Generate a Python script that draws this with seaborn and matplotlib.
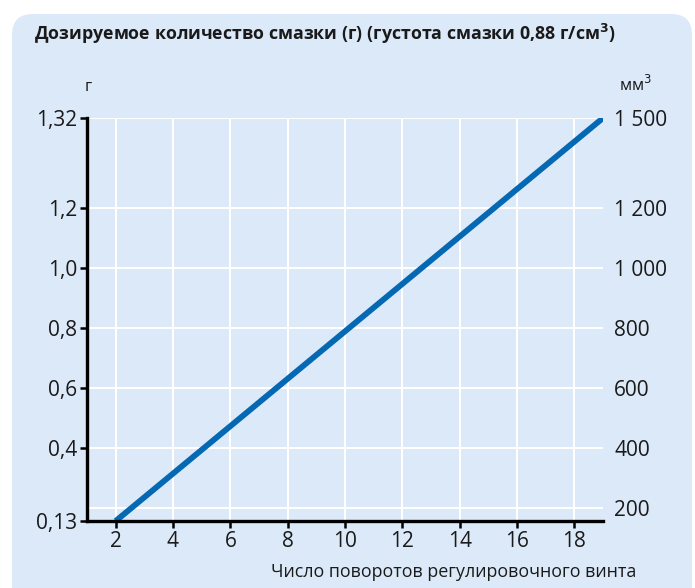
import matplotlib
matplotlib.use("Agg")
import matplotlib.pyplot as plt
import seaborn as sns
import pandas as pd
from matplotlib.patches import FancyBboxPatch

# data
turns = [2, 19]
volume_mm3 = [155, 1500]
x_ticks = [2, 4, 6, 8, 10, 12, 14, 16, 18]
right_ticks = [200, 400, 600, 800, 1000, 1200, 1500]
right_labels = ["200", "400", "600", "800", "1 000", "1 200", "1 500"]
left_ticks = [155, 400, 600, 800, 1000, 1200, 1500]
left_labels = ["0,13", "0,4", "0,6", "0,8", "1,0", "1,2", "1,32"]

sns.set_theme(style="white")
plt.rcParams['font.family'] = ['Open Sans', 'DejaVu Sans']

BG = "#dce9f8"
LINE = "#0568b3"
TXT = "#1a1a1a"

fig = plt.figure(figsize=(6.95, 5.88), dpi=100)
fig.patch.set_facecolor("white")
bg = FancyBboxPatch((12/695, -0.05), 680/695, 574/588 + 0.05,
                    boxstyle="round,pad=0,rounding_size=0.03",
                    transform=fig.transFigure, facecolor=BG, edgecolor="none",
                    zorder=-10, mutation_aspect=695/588)
fig.patches.append(bg)

ax = fig.add_axes([87/695, (588-521)/588, (603-87)/695, (521-118)/588])
ax.set_facecolor(BG)

df = pd.DataFrame({"turns": turns, "mm3": volume_mm3})
sns.lineplot(data=df, x="turns", y="mm3", ax=ax, color=LINE, linewidth=4.2,
             solid_capstyle="butt", zorder=5)

ax.set_xlim(1, 19)
ax.set_ylim(155, 1500)
ax.set_xticks(x_ticks)
ax.set_xticklabels([str(t) for t in x_ticks])
ax.set_yticks(left_ticks)
ax.set_yticklabels(left_labels)
ax.set_xlabel("")
ax.set_ylabel("")

# grid
for xv in x_ticks:
    ax.axvline(xv, color="white", linewidth=1.5, zorder=1)
for yv in right_ticks:
    ax.axhline(yv, color="white", linewidth=1.5, zorder=1)

for s in ["top", "right"]:
    ax.spines[s].set_visible(False)
for s in ["left", "bottom"]:
    ax.spines[s].set_color("black")
    ax.spines[s].set_linewidth(2.4)
    ax.spines[s].set_zorder(6)

ax.tick_params(axis="both", which="both", direction="out", length=5, width=1.8,
               color="black", labelsize=15, labelcolor=TXT, pad=2,
               left=True, bottom=True)

ax2 = ax.twinx()
ax2.set_ylim(155, 1500)
ax2.set_yticks(right_ticks)
ax2.set_yticklabels(right_labels)
ax2.tick_params(axis="y", length=0, labelsize=15, labelcolor=TXT, pad=8)
for s in ax2.spines.values():
    s.set_visible(False)
ax2.grid(False)

fig.text(34/695, 1 - 34/588, "Дозируемое количество смазки (г) (густота смазки 0,88 г/см$^\\mathbf{3}$)",
         fontsize=12.8, fontweight="bold", color=TXT, va="center", ha="left")
fig.text(88/695, 1 - 87/588, "г", fontsize=12, color=TXT, va="center", ha="center")
fig.text(619/695, 1 - 85/588, "мм$^3$", fontsize=12, color=TXT, va="center", ha="left")
fig.text(636/695, 1 - 572/588, "Число поворотов регулировочного винта",
         fontsize=12.9, color=TXT, va="center", ha="right")

fig.savefig("out.png", dpi=100, facecolor=fig.get_facecolor())
